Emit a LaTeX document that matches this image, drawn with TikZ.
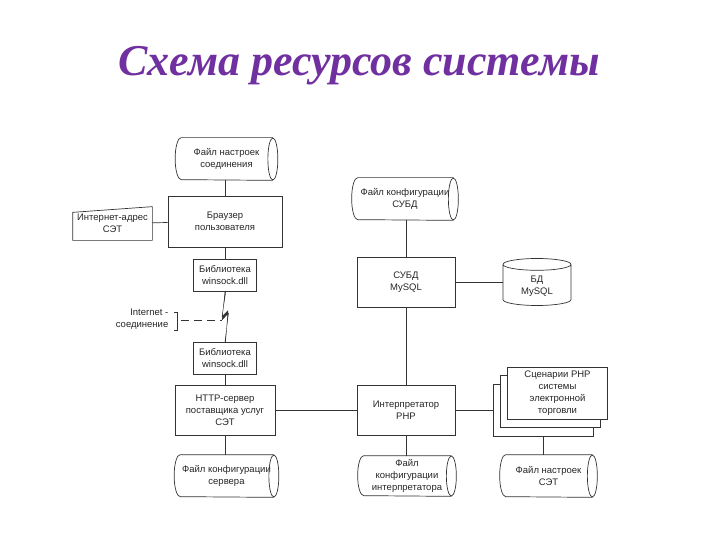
\documentclass[tikz,border=0pt]{standalone}
\usepackage{fontspec}
\setmainfont{Liberation Sans}
\newfontfamily\titlefont{Liberation Serif}
\usetikzlibrary{shapes.geometric,calc}
\definecolor{ttlcolor}{HTML}{7030A0}
\definecolor{ln}{HTML}{333333}
% outline of a lying cylinder round a store node: name, half height
\newcommand{\cylout}[2]{%
  \draw[ln] ($(#1.north east)+(-5,0)$) -- ($(#1.north west)+(6,0)$)
    arc[start angle=270, end angle=90, x radius=6, y radius=#2] -- ($(#1.south east)+(-5,0)$);
  \draw[ln] ($(#1.east)+(-5,0)$) ellipse [x radius=5, y radius=#2];}

\begin{document}
\begin{tikzpicture}[x=1pt, y=-1pt, line width=0.7pt,
  every node/.style={font=\fontsize{9.5}{12}\selectfont, align=center, text=black!85},
  box/.style={draw=ln, fill=white, minimum width=98pt, minimum height=50pt, inner sep=1pt},
  lib/.style={box, minimum width=63pt, minimum height=32pt},
  store/.style={minimum width=102pt, minimum height=42pt, inner sep=1pt},
  dbstore/.style={draw=ln, cylinder, anchor=shape center, shape border rotate=90, shape aspect=0.35, minimum width=68pt, minimum height=47pt, inner sep=1pt}]
  \useasboundingbox (0,0) rectangle (720,540);
  \node[font=\titlefont\bfseries\itshape\fontsize{44}{48}\selectfont, text=ttlcolor] (ttl) at (359,66) {Схема ресурсов системы};

  % left column
  \node[store] (conn) at (226.5,159) {Файл настроек\\соединения};
  \node[box, minimum width=114pt, minimum height=51pt] (browser) at (225,221.5) {Браузер\\пользователя};
  \node[minimum width=79pt, minimum height=33pt, inner sep=1pt] (addr) at (112.5,223.5) {Интернет-адрес\\СЭТ};
  \node[lib] (lib1) at (225,275) {Библиотека\\winsock.dll};
  \node[lib] (lib2) at (225,358) {Библиотека\\winsock.dll};
  \node[box, minimum width=100pt] (http) at (225,410) {HTTP-сервер\\поставщика услуг\\СЭТ};
  \node[store, minimum width=104pt] (srvcfg) at (226.5,476) {Файл конфигурации\\сервера};
  \node[anchor=east, align=right] (inet) at (172,319) {Internet -\\соединение};
  \coordinate (brk) at (177,320);
  \coordinate (zap) at (222,320);

  % middle column
  \node[store, minimum width=106pt] (dbcfg) at (405,199) {Файл конфигурации\\СУБД};
  \node[box] (dbms) at (406,282) {СУБД\\MySQL};
  \node[dbstore] (db) at (537,282) {БД\\MySQL};
  \node[box] (php) at (406,410) {Интерпретатор\\PHP};
  \node[store, minimum width=98pt, minimum height=40pt] (phpcfg) at (407,476) {Файл\\конфигурации\\интерпретатора};

  % scripts
  \node[box, minimum width=100pt, minimum height=52pt] (scr3) at (543,410) {};
  \node[box, minimum width=100pt, minimum height=52pt] (scr2) at (550.5,401.5) {};
  \node[box, minimum width=100pt, minimum height=52pt] (scr1) at (557.5,393) {Сценарии PHP\\системы\\электронной\\торговли};
  \node[store, minimum width=97pt] (shopcfg) at (548.5,476) {Файл настроек\\СЭТ};

  % file shapes
  \cylout{conn}{21}
  \cylout{srvcfg}{21}
  \cylout{dbcfg}{21}
  \cylout{phpcfg}{20}
  \cylout{shopcfg}{21}

  % connectors
  \draw[ln] (browser.north) -- (browser.north |- conn.south);
  \draw[ln] (addr.south west) -- ++(0,-28) -- (addr.north east) -- (addr.south east) -- cycle;
  \draw[ln] (addr) -- (browser);
  \draw[ln] (browser) -- (lib1);
  \draw[ln, fill=ln, line width=0.3pt] (lib1.south) -- (zap) -- ++(6.5,-7) -- (lib2.north) -- ++(0.6,0) -- ++(2.4,-31) -- ++(-6,6) -- ([xshift=0.8pt]lib1.south) -- cycle;
  \draw[ln] ($(brk)+(-3,-8)$) -- ++(3,0) -- ++(0,18) -- ++(-3,0);
  \draw[ln, dash pattern=on 8pt off 5pt] ($(brk)+(4,0)$) -- (zap);
  \draw[ln] (lib2) -- (http);
  \draw[ln] (http.south) -- (http.south |- srvcfg.north);
  \draw[ln] (http) -- (php);
  \draw[ln] (dbms.north) -- (dbms.north |- dbcfg.south);
  \draw[ln] (dbms.east) -- (dbms.east -| db.west);
  \draw[ln] (dbms) -- (php);
  \draw[ln] (php.south) -- (php.south |- phpcfg.north);
  \draw[ln] (php) -- (scr3);
  \draw[ln] (scr3.south) -- (scr3.south |- shopcfg.north);
\end{tikzpicture}
\end{document}
